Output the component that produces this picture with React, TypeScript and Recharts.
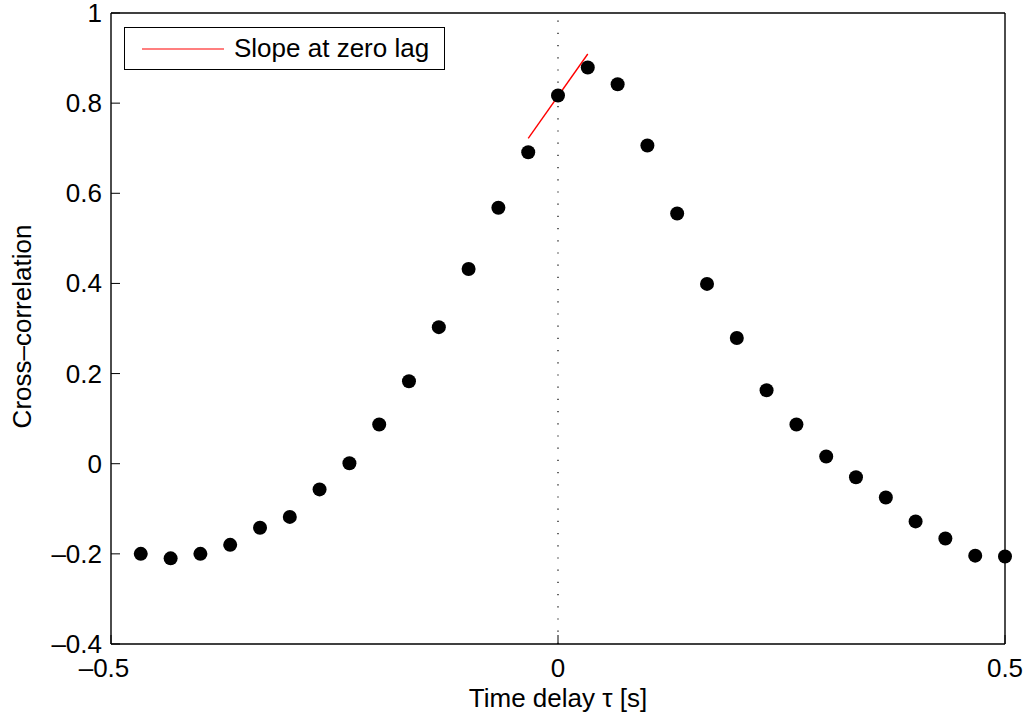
import {
  ComposedChart,
  Scatter,
  Line,
  XAxis,
  YAxis,
  ReferenceLine,
  Legend,
  Label,
} from "recharts";

// time lags [s]
const lags = [
  -0.4667, -0.4333, -0.4, -0.3667, -0.3333, -0.3, -0.2667, -0.2333, -0.2, -0.1667,
  -0.1333, -0.1, -0.0667, -0.0333, 0, 0.0333, 0.0667, 0.1, 0.1333, 0.1667,
  0.2, 0.2333, 0.2667, 0.3, 0.3333, 0.3667, 0.4, 0.4333, 0.4667, 0.5,
];

// normalised cross-correlation at each lag
const correlation = [
  -0.2, -0.21, -0.2, -0.18, -0.142, -0.118, -0.057, 0.001, 0.087, 0.183,
  0.303, 0.432, 0.568, 0.691, 0.817, 0.879, 0.842, 0.706, 0.555, 0.399,
  0.279, 0.163, 0.087, 0.016, -0.03, -0.075, -0.128, -0.166, -0.204, -0.206,
];

// tangent line through the zero-lag sample
const slopeLags = [-0.0333, 0.0333];
const slopeValues = [0.722, 0.909];

const xTicks = [-0.5, 0, 0.5];
const yTicks = [-0.4, -0.2, 0, 0.2, 0.4, 0.6, 0.8, 1];

const points = lags.map((x, i) => ({ x, y: correlation[i] }));
const slopeLine = slopeLags.map((x, i) => ({ x, y: slopeValues[i] }));

const FONT = '"Liberation Sans", Arial, Helvetica, sans-serif';
const FS = 26;
const TICK_LEN = 9;

const fmt = (v: number) => (v < 0 ? "\u2013" + String(-v) : String(v));

const BottomTick = (props: any) => {
  const { x, y, payload } = props;
  // the minus sign hangs to the left of the centred digits
  const dx = payload.value < 0 ? -7 : 0;
  return (
    <g>
      <line x1={x} y1={y} x2={x} y2={y - TICK_LEN} stroke="#000" strokeWidth={1} />
      <text x={x + dx} y={y + 33} textAnchor="middle" fontSize={FS} fontFamily={FONT} fill="#000">
        {fmt(payload.value)}
      </text>
    </g>
  );
};

const TopTick = (props: any) => {
  const { x, y } = props;
  return <line x1={x} y1={y} x2={x} y2={y + TICK_LEN} stroke="#000" strokeWidth={1} />;
};

const LeftTick = (props: any) => {
  const { x, y, payload } = props;
  return (
    <g>
      <line x1={x} y1={y} x2={x + TICK_LEN} y2={y} stroke="#000" strokeWidth={1} />
      <text x={x - 9} y={y + 9} textAnchor="end" fontSize={FS} fontFamily={FONT} fill="#000">
        {fmt(payload.value)}
      </text>
    </g>
  );
};

const RightTick = (props: any) => {
  const { x, y } = props;
  return <line x1={x} y1={y} x2={x - TICK_LEN} y2={y} stroke="#000" strokeWidth={1} />;
};

const LegendBox = (props: any) => {
  const items = (props.payload || []).filter((p: any) => p.type !== "none");
  return (
    <div
      style={{
        border: "1px solid #000",
        background: "#fff",
        width: 319,
        height: 41,
        display: "flex",
        alignItems: "center",
        fontFamily: FONT,
        fontSize: FS,
        whiteSpace: "nowrap",
      }}
    >
      {items.map((p: any) => (
        <div key={p.value} style={{ display: "flex", alignItems: "center" }}>
          <svg width={100} height={10} style={{ display: "block" }}>
            <line x1={17} y1={5} x2={99} y2={5} stroke={p.color} strokeWidth={1.2} />
          </svg>
          <span style={{ marginLeft: 9, color: "#000" }}>{p.value}</span>
        </div>
      ))}
    </div>
  );
};

const Dot = (props: any) => {
  const { cx, cy } = props;
  return <circle cx={cx} cy={cy} r={7} fill="#000" />;
};

export default function App() {
  return (
    <div style={{ position: "fixed", left: 0, top: 0, background: "#fff", fontFamily: FONT }}>
      <ComposedChart width={1027} height={721} margin={{ top: 12, right: 21, bottom: 0, left: 0 }}>
        <XAxis
          xAxisId="b"
          dataKey="x"
          type="number"
          domain={[-0.5, 0.5]}
          ticks={xTicks}
          interval={0}
          height={77}
          tickSize={0}
          tickMargin={0}
          tickLine={false}
          tick={BottomTick}
          axisLine={{ stroke: "#000", strokeWidth: 1.4 }}
        >
          <Label
            content={(p: any) => {
              const vb = p.viewBox;
              return (
                <text
                  x={vb.x + vb.width / 2}
                  y={vb.y + 63}
                  textAnchor="middle"
                  fontSize={FS}
                  fontFamily={FONT}
                  fill="#000"
                >
                  Time delay τ [s]
                </text>
              );
            }}
          />
        </XAxis>
        <XAxis
          xAxisId="t"
          orientation="top"
          dataKey="x"
          type="number"
          domain={[-0.5, 0.5]}
          ticks={xTicks}
          interval={0}
          height={1}
          tickSize={0}
          tickMargin={0}
          tickLine={false}
          tick={TopTick}
          axisLine={{ stroke: "#000", strokeWidth: 1.4 }}
        />
        <YAxis
          yAxisId="l"
          dataKey="y"
          type="number"
          domain={[-0.4, 1]}
          ticks={yTicks}
          interval={0}
          width={111}
          tickSize={0}
          tickMargin={0}
          tickLine={false}
          tick={LeftTick}
          axisLine={{ stroke: "#000", strokeWidth: 1.4 }}
        >
          <Label
            content={(p: any) => {
              const vb = p.viewBox;
              const cx = 22;
              const cy = vb.y + vb.height / 2 - 2;
              return (
                <text
                  x={cx}
                  y={cy}
                  transform={`rotate(-90 ${cx} ${cy})`}
                  textAnchor="middle"
                  dominantBaseline="central"
                  fontSize={FS}
                  fontFamily={FONT}
                  fill="#000"
                >
                  Cross–correlation
                </text>
              );
            }}
          />
        </YAxis>
        <YAxis
          yAxisId="r"
          orientation="right"
          dataKey="y"
          type="number"
          domain={[-0.4, 1]}
          ticks={yTicks}
          interval={0}
          width={1}
          tickSize={0}
          tickMargin={0}
          tickLine={false}
          tick={RightTick}
          axisLine={{ stroke: "#000", strokeWidth: 1.4 }}
        />
        <ReferenceLine
          xAxisId="b"
          yAxisId="l"
          x={0}
          stroke="#000"
          strokeWidth={1.2}
          strokeDasharray="1.2 11"
        />
        <Line
          xAxisId="b"
          yAxisId="l"
          data={slopeLine}
          dataKey="y"
          name="Slope at zero lag"
          stroke="#ff0000"
          strokeWidth={1.4}
          dot={false}
          isAnimationActive={false}
        />
        <Scatter
          xAxisId="b"
          yAxisId="l"
          data={points}
          dataKey="y"
          fill="#000"
          shape={Dot}
          legendType="none"
          isAnimationActive={false}
        />
        <Legend
          layout="horizontal"
          verticalAlign="middle"
          align="center"
          content={LegendBox}
          wrapperStyle={{ left: 124, top: 27, width: 321, height: 43 }}
        />
      </ComposedChart>
    </div>
  );
}
